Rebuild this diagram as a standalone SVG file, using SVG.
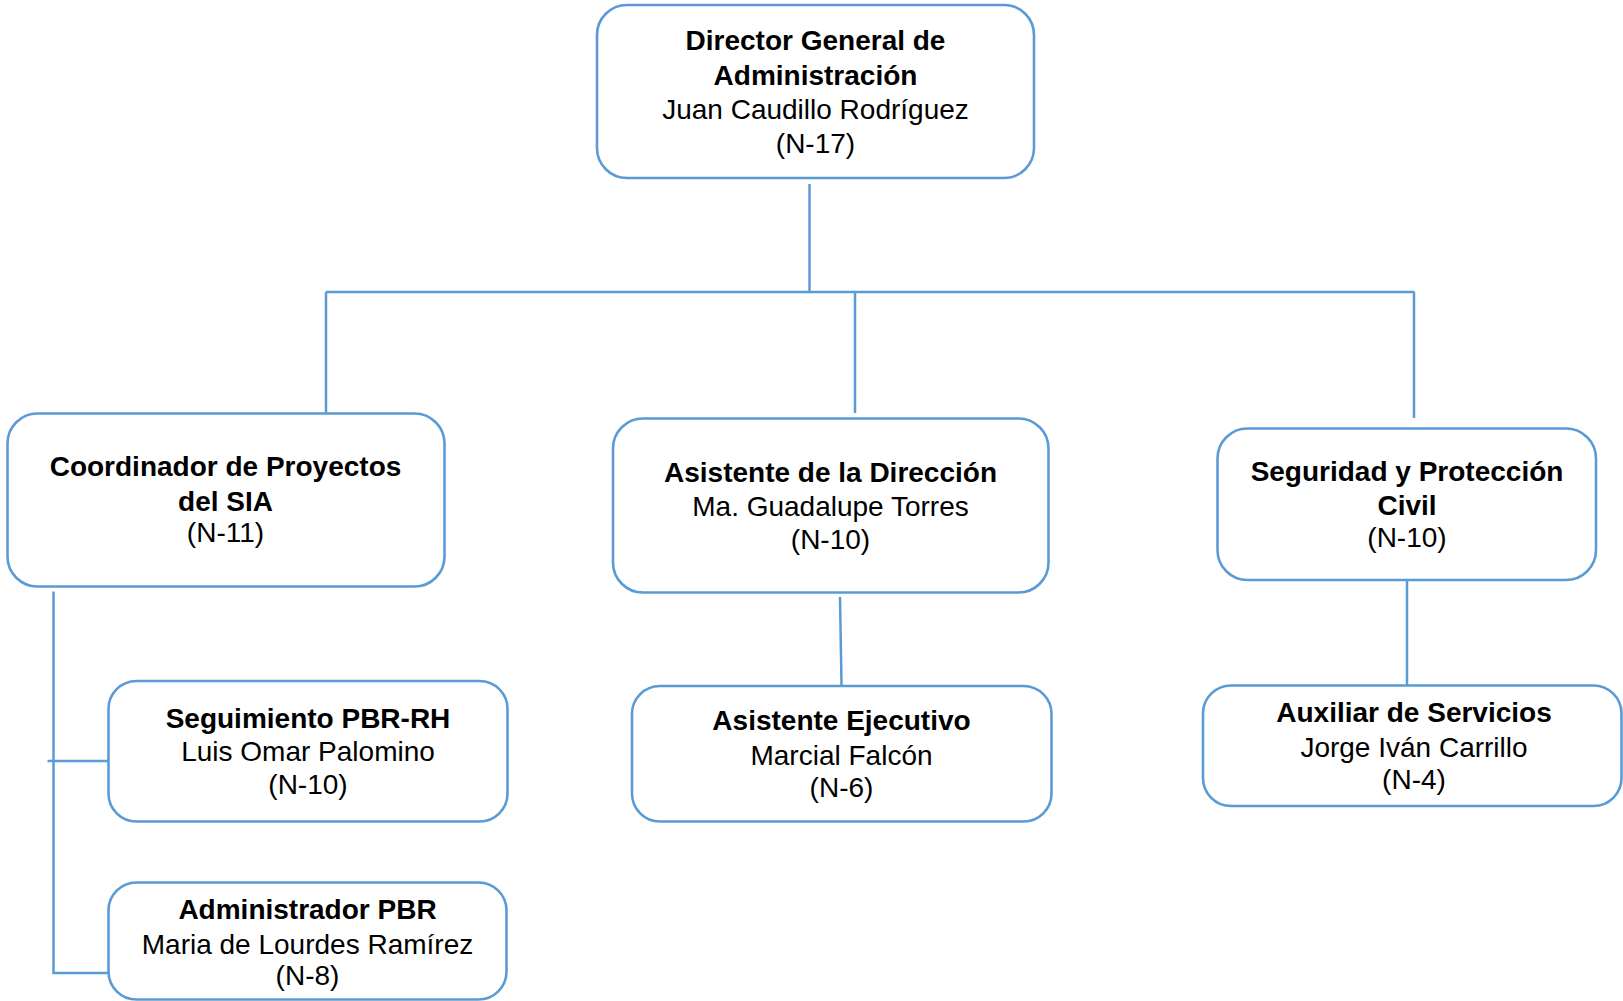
<svg xmlns="http://www.w3.org/2000/svg" width="1623" height="1001" viewBox="0 0 1623 1001">
<style>
.box{fill:#fff;stroke:#5B9BD5;stroke-width:2.6}
.t{font-family:"Liberation Sans",Arial,sans-serif;font-size:28px;fill:#000;text-anchor:middle}
.b{font-weight:bold}
.c{fill:none;stroke:#5B9BD5;stroke-width:2.5}
</style>
<rect width="1623" height="1001" fill="#fff"/>
<g id="connectors">
<line class="c" x1="809.5" y1="184" x2="809.5" y2="292"/>
<line class="c" x1="326" y1="292" x2="1414.5" y2="292" stroke-width="3"/>
<line class="c" x1="326" y1="292" x2="326" y2="418"/>
<line class="c" x1="855" y1="292" x2="855" y2="413"/>
<line class="c" x1="1414" y1="292" x2="1414" y2="418"/>
<line class="c" x1="840" y1="597" x2="841.5" y2="685"/>
<line class="c" x1="1407" y1="580" x2="1407" y2="685"/>
<polyline class="c" points="53.5,591.5 53.5,973 108.5,973"/>
<line class="c" x1="47.5" y1="761" x2="108.5" y2="761"/>
</g>
<g id="director">
<rect class="box" x="597" y="5" width="437" height="173" rx="30"/>
<text class="t b" x="815.5" y="50">Director General de</text>
<text class="t b" x="815.5" y="85">Administración</text>
<text class="t" x="815.5" y="119">Juan Caudillo Rodríguez</text>
<text class="t" x="815.5" y="153">(N-17)</text>
</g>
<g id="coordinador">
<rect class="box" x="7.5" y="413.5" width="437" height="173" rx="30"/>
<text class="t b" x="225.5" y="476">Coordinador de Proyectos</text>
<text class="t b" x="225.5" y="511">del SIA</text>
<text class="t" x="225.5" y="542">(N-11)</text>
</g>
<g id="asistente-direccion">
<rect class="box" x="613" y="418.5" width="435.5" height="174" rx="30"/>
<text class="t b" x="830.5" y="482">Asistente de la Dirección</text>
<text class="t" x="830.5" y="516">Ma. Guadalupe Torres</text>
<text class="t" x="830.5" y="548.5">(N-10)</text>
</g>
<g id="seguridad">
<rect class="box" x="1217.5" y="428.5" width="378.5" height="151.5" rx="30"/>
<text class="t b" x="1407" y="481">Seguridad y Protección</text>
<text class="t b" x="1407" y="514.5">Civil</text>
<text class="t" x="1407" y="547">(N-10)</text>
</g>
<g id="seguimiento">
<rect class="box" x="108.5" y="681" width="399" height="140.5" rx="28"/>
<text class="t b" x="308" y="727.5">Seguimiento PBR-RH</text>
<text class="t" x="308" y="761">Luis Omar Palomino</text>
<text class="t" x="308" y="793.5">(N-10)</text>
</g>
<g id="administrador">
<rect class="box" x="108.5" y="882.5" width="398" height="117" rx="28"/>
<text class="t b" x="307.5" y="918.5">Administrador PBR</text>
<text class="t" x="307.5" y="953.5">Maria de Lourdes Ramírez</text>
<text class="t" x="307.5" y="985">(N-8)</text>
</g>
<g id="asistente-ejecutivo">
<rect class="box" x="632" y="686" width="419.5" height="135.5" rx="28"/>
<text class="t b" x="841.5" y="729.5">Asistente Ejecutivo</text>
<text class="t" x="841.5" y="764.5">Marcial Falcón</text>
<text class="t" x="841.5" y="797">(N-6)</text>
</g>
<g id="auxiliar">
<rect class="box" x="1203" y="685.5" width="418.5" height="120.5" rx="28"/>
<text class="t b" x="1414" y="722">Auxiliar de Servicios</text>
<text class="t" x="1414" y="757">Jorge Iván Carrillo</text>
<text class="t" x="1414" y="788.5">(N-4)</text>
</g>
</svg>
